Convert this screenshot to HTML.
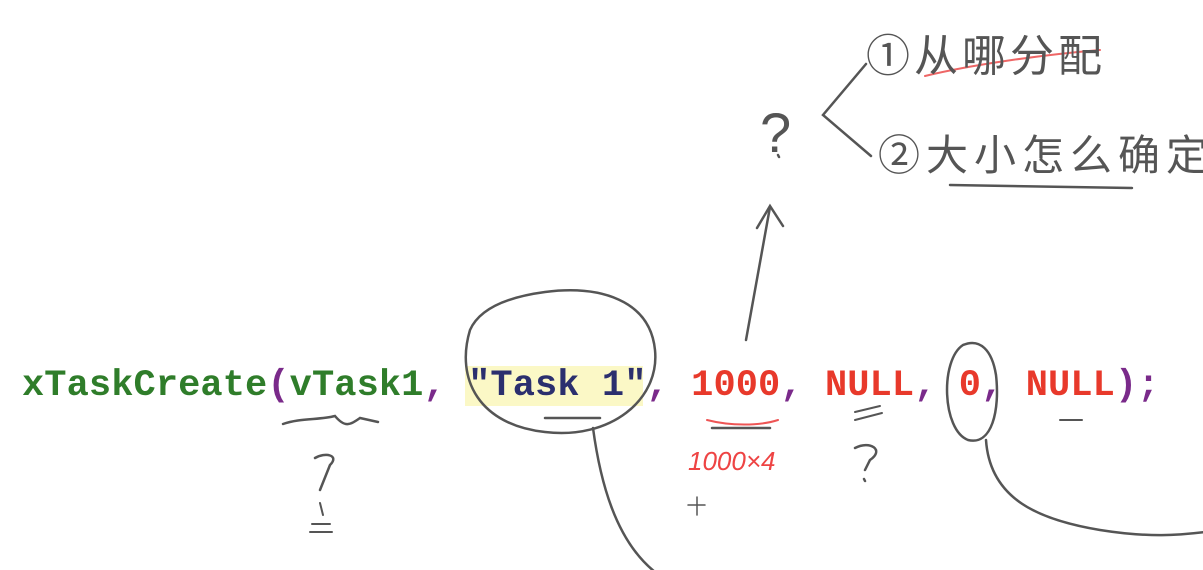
<!DOCTYPE html>
<html><head><meta charset="utf-8"><style>
html,body{margin:0;padding:0;background:#fff;}
body{width:1203px;height:570px;position:relative;overflow:hidden;font-family:"Liberation Sans","Noto Sans CJK SC",sans-serif;}
.code{position:absolute;left:22px;top:364px;font-family:"Liberation Mono",monospace;font-weight:bold;font-size:37px;white-space:pre;line-height:44px;letter-spacing:0.1px;}
.g{color:#2f7d2a}.p{color:#7a2a8a}.n{color:#2b2f6e}.r{color:#e8392b}
.hl{position:absolute;left:465px;top:366px;width:178px;height:40px;background:#fbf8c6;}
.hw{position:absolute;color:#555;font-family:"Liberation Sans","Noto Sans CJK SC",sans-serif;white-space:nowrap;}
</style></head><body>
<div class="hl"></div>
<div class="code"><span class="g">xTaskCreate</span><span class="p">(</span><span class="g">vTask1</span><span class="p">, </span><span class="n">"Task 1"</span><span class="p">, </span><span class="r">1000</span><span class="p">, </span><span class="r">NULL</span><span class="p">, </span><span class="r">0</span><span class="p">, </span><span class="r">NULL</span><span class="p">);</span></div>
<svg width="1203" height="570" style="position:absolute;left:0;top:0" fill="none" stroke="#555" stroke-width="2.5" stroke-linecap="round">
<path d="M470,330 C455,380 480,425 545,432 C610,440 660,400 655,350 C650,300 600,285 545,292 C500,298 478,312 470,330"/>
<path d="M545,418 L600,418"/>
<path d="M593,428 C600,480 615,540 655,572"/>
<path d="M963,345 C940,360 942,430 968,440 C992,446 1000,410 996,375 C992,350 980,338 963,345"/>
<path d="M986,440 C990,500 1040,520 1100,530 C1150,538 1180,535 1205,532"/>
<path d="M746,340 L770,207"/>
<path d="M757,228 L770,206 L783,226"/>
<path d="M866,64 L823,115 L871,156"/>
<path d="M950,185 L1132,188"/>
<path d="M1100,50 C1040,55 970,65 925,76" stroke="#e66" stroke-width="2"/>
<path d="M283,424 C300,418 320,420 335,416 C345,428 350,425 360,418 L378,422"/>
<path d="M315,458 C325,452 340,455 330,465 L320,490"/>
<path d="M320,503 L323,515 M312,524 L330,524 M310,532 L332,532" stroke-width="2"/>
<path d="M707,420 C730,426 760,426 778,420" stroke="#e55" stroke-width="2"/>
<path d="M712,428 L770,428"/>
<path d="M855,412 L880,406 M855,420 L882,413" stroke-width="2"/>
<path d="M855,448 C870,440 885,450 870,460 L865,470 M864,479 L865,481"/>
<path d="M1060,420 L1082,420" stroke-width="2"/>
<path d="M688,505 L705,505 M697,497 L697,515" stroke-width="1.5"/>
<path d="M778,155 L779,157"/>
</svg>
<div class="hw" style="left:866px;top:20px;font-size:44px;letter-spacing:4px;">①从哪分配</div>
<div class="hw" style="left:878px;top:122px;font-size:42px;letter-spacing:6px;">②大小怎么确定</div>
<div class="hw" style="left:760px;top:100px;font-size:56px;">?</div>
<div class="hw" style="left:688px;top:446px;font-size:26px;color:#e44;font-style:italic;">1000×4</div>
</body></html>
